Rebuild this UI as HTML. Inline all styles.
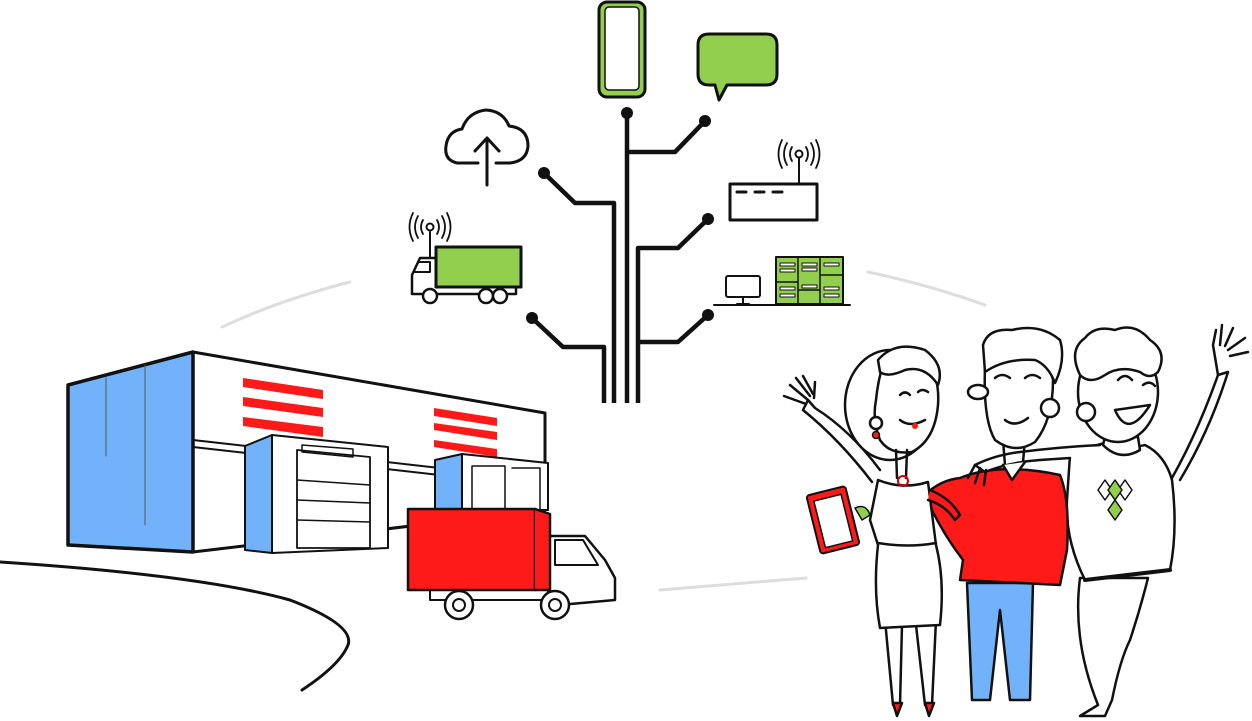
<!DOCTYPE html>
<html><head><meta charset="utf-8"><style>html,body{margin:0;padding:0;background:#fff}svg{display:block}</style></head>
<body>
<svg width="1252" height="721" viewBox="0 0 1252 721" xmlns="http://www.w3.org/2000/svg" fill="none" stroke="#111" stroke-linecap="round" stroke-linejoin="round">
<path d="M222 327 Q280 300 350 282" stroke="#ddd" stroke-width="3"/>
<path d="M868 272 Q930 285 985 305" stroke="#ddd" stroke-width="3"/>
<path d="M660 590 Q730 584 806 578" stroke="#ddd" stroke-width="3"/>

<g stroke-width="4.5" stroke-linecap="butt">
<path d="M627 113 V403"/>
<path d="M627 152 H675 L705 121"/>
<path d="M614 403 V203 H575 L544 173"/>
<path d="M604 403 V347 H563 L532 318"/>
<path d="M638 403 V248 H678 L708 219"/>
<path d="M638 342 H678 L708 315"/>
</g>
<g fill="#111" stroke="none">
<circle cx="627" cy="113" r="6"/><circle cx="705" cy="121" r="6"/><circle cx="544" cy="173" r="6"/>
<circle cx="532" cy="318" r="6"/><circle cx="708" cy="219" r="6"/><circle cx="708" cy="315" r="6"/>
</g>
<rect x="599" y="2" width="46" height="95" rx="8" fill="#92cf4f" stroke-width="3"/>
<rect x="605" y="7" width="34" height="83" rx="4" fill="#fff" stroke-width="1.5"/>
<path d="M709 34 H766 Q777 34 777 45 V74 Q777 85 766 85 H727 L719 100 L715 85 H709 Q698 85 698 74 V45 Q698 34 709 34Z" fill="#92cf4f" stroke-width="3"/>
<path d="M478 163 H457 Q444 160 446 146 Q448 131 462 129 Q468 112 486 110 Q503 111 509 126 Q528 128 528 146 Q527 161 510 163 H496" stroke-width="3"/>
<path d="M487 185 V138 M475 151 L487 138 L499 151" stroke-width="3"/>
<rect x="730" y="184" width="87" height="36" stroke-width="3"/>
<path d="M737 192 H746 M755 192 H764 M773 192 H782" stroke-width="3"/>
<path d="M799 184 V158" stroke-width="2"/><circle cx="799" cy="154" r="3.5" stroke-width="2"/>
<path d="M792 147 Q788 154 792 161 M806 147 Q810 154 806 161 M787 143 Q781 154 787 165 M811 143 Q817 154 811 165 M782 140 Q775 154 782 168 M816 140 Q823 154 816 168" stroke-width="1.8"/>
<rect x="436" y="247" width="85" height="40" fill="#92cf4f" stroke-width="3"/>
<path d="M436 258 H420 L412 275 V294 H516 V287" stroke-width="2.5"/>
<path d="M418 262 H430 V272 H415" stroke-width="2"/>
<circle cx="430" cy="296" r="7" fill="#fff" stroke-width="2.5"/><circle cx="486" cy="296" r="7" fill="#fff" stroke-width="2.5"/><circle cx="500" cy="296" r="7" fill="#fff" stroke-width="2.5"/>
<path d="M430 258 V232" stroke-width="2"/><circle cx="430" cy="227" r="3.5" stroke-width="2"/>
<path d="M423 220 Q419 227 423 234 M437 220 Q441 227 437 234 M418 216 Q412 227 418 238 M442 216 Q448 227 442 238 M413 213 Q406 227 413 241 M447 213 Q454 227 447 241" stroke-width="1.8"/>
<path d="M714 305 H850" stroke-width="2"/>
<rect x="726" y="276" width="34" height="21" rx="2" stroke-width="2"/>
<path d="M743 297 V305 M737 304 H749" stroke-width="2"/>
<rect x="776" y="257" width="67" height="47" fill="#92cf4f" stroke-width="2"/>
<path d="M798 257 V304 M820 257 V304 M776 282 H798 M820 275 H843 M798 290 H820" stroke-width="1.5"/>
<g fill="#fff" stroke-width="1"><rect x="780" y="263" width="15" height="3"/><rect x="780" y="269" width="15" height="3"/><rect x="802" y="263" width="15" height="3"/><rect x="802" y="268" width="15" height="3"/><rect x="824" y="263" width="15" height="3"/><rect x="780" y="287" width="15" height="3"/><rect x="780" y="294" width="15" height="3"/><rect x="802" y="285" width="15" height="3"/><rect x="824" y="287" width="15" height="3"/><rect x="824" y="294" width="15" height="3"/></g>

<path d="M193 352 L545 413 V510 L193 552Z" fill="#fff" stroke-width="3"/>
<path d="M68 385 L193 352 V552 L68 545Z" fill="#72b2fb" stroke-width="3.5"/>
<path d="M106 378 V456 M145 365 V525" stroke="#555" stroke-width="1"/>
<path d="M193 440 L545 480 M193 447 L545 487" stroke-width="2"/>
<g fill="#ff1a1a" stroke="none">
<path d="M243 378 L323 390 V399 L243 387Z"/><path d="M243 397 L323 408 V417 L243 406Z"/><path d="M243 417 L323 427 V437 L243 426Z"/>
<path d="M434 408 L497 418 V426 L434 416Z"/><path d="M434 423 L497 432 V440 L434 430Z"/><path d="M434 440 L497 449 V457 L434 447Z"/>
</g>
<path d="M245 446 L272 435 V553 L245 550Z" fill="#72b2fb" stroke-width="2"/>
<path d="M272 435 L388 447 V548 L272 553Z" fill="#fff" stroke-width="2"/>
<path d="M297 450 L370 457 V548 H297Z" fill="#fff" stroke-width="1.8"/>
<path d="M297 480 L370 485 M297 500 L370 503 M297 520 L370 522 M302 445 L353 449 V457 L302 452Z" stroke-width="1.5"/>
<path d="M435 460 L462 454 V510 H435Z" fill="#72b2fb" stroke-width="2"/>
<path d="M462 454 L548 463 V510 H462Z" fill="#fff" stroke-width="2"/>
<path d="M472 466 H505 V510 M512 468 H540 V510 M472 466 V510" stroke-width="1.5"/>
<path d="M548 536 H585 L605 560 L615 578 V600 L548 606Z" fill="#fff" stroke-width="2.5"/>
<path d="M555 540 H583 L598 565 H555Z" stroke-width="2"/>
<path d="M430 590 H548 V600 H430Z" fill="#fff" stroke-width="2"/>
<rect x="408" y="509" width="127" height="81" fill="#ff1a1a" stroke-width="2.5"/>
<path d="M535 509 L550 514 V590 H535" fill="#ff1a1a" stroke-width="2.5"/>
<circle cx="459" cy="605" r="14" fill="#fff" stroke-width="2.5"/><circle cx="459" cy="605" r="6" stroke-width="2"/>
<circle cx="555" cy="605" r="14" fill="#fff" stroke-width="2.5"/><circle cx="555" cy="605" r="6" stroke-width="2"/>
<path d="M0 562 Q200 575 290 600 Q355 625 348 645 Q340 665 302 690" stroke-width="3"/>

<!-- people -->
<g stroke-width="2.5">
<!-- right guy legs -->
<path d="M1080 578 Q1072 640 1098 705 L1080 716 H1105 L1112 700 Q1120 660 1130 640 Q1140 610 1148 578Z" fill="#fff"/>
<!-- right guy raised arm -->
<path d="M1165 490 Q1195 440 1218 375 L1228 372 Q1210 430 1180 480" fill="#fff"/>
<path d="M1218 375 L1213 345 L1216 330 M1220 345 L1222 325 M1225 346 L1233 328 M1228 350 L1245 338 M1230 356 L1248 352"/>
<!-- right guy sweater -->
<path d="M1070 455 Q1095 445 1105 443 Q1125 450 1145 445 Q1165 455 1172 480 Q1178 530 1170 570 L1085 580 Q1065 540 1067 500Z" fill="#fff"/>
<path d="M1085 580 L1170 570" stroke-width="4"/>
<g fill="#fff" stroke-width="1.5"><path d="M1105 480 L1112 490 L1105 500 L1098 490Z"/><path d="M1125 480 L1132 490 L1125 500 L1118 490Z"/></g>
<g fill="#92cf4f" stroke-width="1.5"><path d="M1115 480 L1122 490 L1115 500 L1108 490Z"/><path d="M1115 500 L1122 510 L1115 520 L1108 510Z"/></g>
<path d="M1103 445 Q1120 462 1140 450 L1138 437 H1105Z" fill="#fff"/>
<!-- right guy head -->
<ellipse cx="1118" cy="392" rx="40" ry="50" fill="#fff"/>
<path d="M1080 375 Q1068 350 1085 338 Q1095 325 1115 330 Q1135 322 1150 340 Q1168 352 1158 372 Q1150 380 1140 372 Q1120 365 1105 375 Q1090 385 1080 375Z" fill="#fff"/>
<circle cx="1086" cy="412" r="9" fill="#fff"/>
<path d="M1115 410 Q1128 440 1150 405Z" fill="#fff"/>
<path d="M1118 380 Q1125 372 1132 380 M1143 385 Q1150 380 1155 386"/>
<!-- middle guy jeans -->
<path d="M967 583 L972 700 L990 700 L1000 610 L1010 700 L1030 700 L1033 583Z" fill="#72b2fb"/>
<!-- middle guy sweater -->
<path d="M960 478 Q1000 462 1060 475 Q1070 500 1067 550 L1060 585 L960 580 L963 560 Q940 530 925 495 Q940 480 960 478Z" fill="#ff1a1a"/>
<!-- right guy arm across -->
<path d="M1100 445 Q1060 447 1020 452 Q995 455 975 465 L985 472 Q1010 462 1040 460 L1070 458" fill="#fff"/>
<path d="M975 465 L968 478 M980 468 L975 483 M986 470 L984 485" />
<!-- middle guy neck/collar -->
<path d="M1003 440 L1005 465 M1025 440 L1023 462"/>
<path d="M1003 465 L1012 480 L1025 462" fill="#fff"/>
<!-- middle guy head -->
<path d="M985 368 Q983 420 995 440 Q1015 455 1035 442 Q1053 420 1053 380 Q1050 360 1040 355 Q1010 352 985 368Z" fill="#fff"/>
<path d="M983 345 Q988 328 1012 330 Q1040 323 1060 340 Q1066 360 1055 383 Q1048 365 1035 360 Q1005 358 985 372Z" fill="#fff"/>
<ellipse cx="978" cy="392" rx="10" ry="7" fill="#fff"/>
<circle cx="1050" cy="408" r="9" fill="#fff"/>
<path d="M1005 420 Q1015 428 1028 418 M995 378 Q1002 372 1010 378 M1025 378 Q1032 372 1040 378"/>
<!-- woman raised arm -->
<path d="M880 470 Q850 430 815 408 L808 400 L803 410 Q840 440 872 482" fill="#fff"/>
<path d="M808 400 L790 385 M810 396 L796 378 M813 394 L803 376 M814 398 L815 382 M806 404 L784 396"/>
<!-- woman legs -->
<path d="M885 620 L893 705 H900 L902 625 M916 625 L925 705 H932 L936 620" />
<path d="M893 703 L897 716 L902 703Z M925 703 L929 716 L934 703Z" fill="#ff1a1a"/>
<!-- woman body -->
<path d="M878 480 Q903 490 928 482 L936 545 Q945 580 940 625 L880 628 Q873 590 878 545 L870 520Z" fill="#fff"/>
<path d="M878 543 Q908 548 936 543"/>
<!-- middle guy arm around woman -->
<path d="M930 490 Q950 498 960 515 L955 520 Q945 505 928 500" fill="#ff1a1a"/>
<!-- woman head -->
<ellipse cx="890" cy="405" rx="45" ry="55" fill="#fff"/>
<path d="M883 365 Q900 350 925 360 Q940 375 938 405 Q935 440 912 452 Q890 455 880 440 Q872 420 876 400 Q878 380 883 365Z" fill="#fff"/>
<path d="M878 360 Q895 340 925 350 Q945 365 938 385 Q925 365 905 370 Q888 378 880 372Z" fill="#fff"/>
<path d="M896 450 L897 478 M907 450 L906 478"/>
<circle cx="876" cy="423" r="6" fill="#fff"/>
<circle cx="876" cy="435" r="3.5" fill="#ff1a1a" stroke-width="1.5"/>
<path d="M900 420 Q910 428 925 420 M900 395 Q905 390 910 395 M918 392 Q922 388 928 392"/>
<circle cx="915" cy="426" r="3" fill="#ff1a1a" stroke="none"/>
<circle cx="903" cy="481" r="5" stroke="#c00" stroke-width="2"/>
<!-- clipboard -->
<rect x="813" y="490" width="40" height="60" rx="3" transform="rotate(-14 833 520)" fill="#ff1a1a" stroke="#111" stroke-width="2"/>
<rect x="819" y="497" width="28" height="48" transform="rotate(-14 833 520)" fill="#fff" stroke-width="1.5"/>
<path d="M855 508 Q866 503 870 515 L862 520Z" fill="#92cf4f" stroke-width="1.5"/>
</g>
</svg>
</body></html>
